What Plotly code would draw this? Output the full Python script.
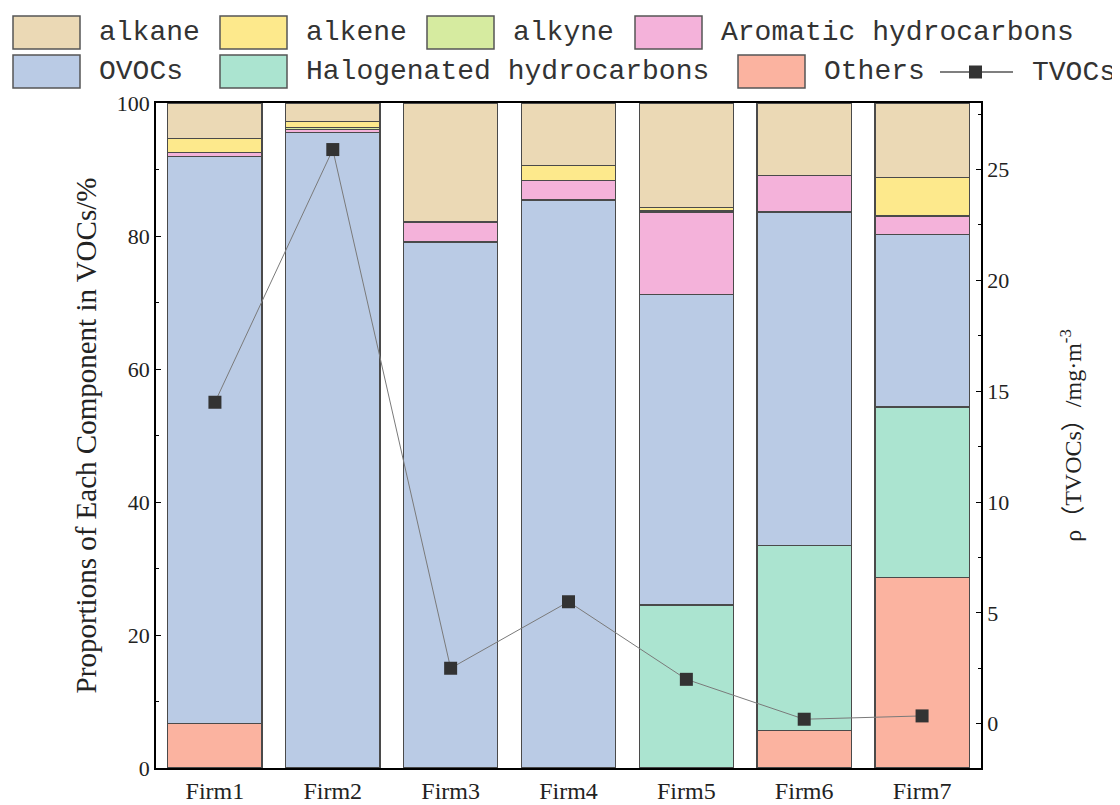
import plotly.graph_objects as go

firms = ["Firm1", "Firm2", "Firm3", "Firm4", "Firm5", "Firm6", "Firm7"]

others = [6.7, 0, 0, 0, 0, 5.7, 28.7]
halogenated = [0, 0, 0, 0, 24.5, 27.8, 25.6]
ovocs = [85.3, 95.6, 79.1, 85.4, 46.7, 50.1, 25.9]
aromatic = [0.5, 0.4, 3.0, 3.0, 12.4, 5.5, 2.8]
alkyne = [0.1, 0.3, 0, 0, 0.2, 0, 0]
alkene = [2.1, 0.9, 0, 2.2, 0.5, 0, 5.8]
alkane = [5.3, 2.8, 17.9, 9.4, 15.7, 10.9, 11.2]

tvocs = [14.5, 25.9, 2.5, 5.5, 2.0, 0.2, 0.35]

left_ticks = [0, 20, 40, 60, 80, 100]
right_ticks = [0, 5, 10, 15, 20, 25]

# stacking order bottom -> top
series = [
    ("Others", others, "#FBB3A0"),
    ("Halogenated hydrocarbons", halogenated, "#ABE4D0"),
    ("OVOCs", ovocs, "#BACBE5"),
    ("Aromatic hydrocarbons", aromatic, "#F4B2DA"),
    ("alkyne", alkyne, "#D6EBA0"),
    ("alkene", alkene, "#FDE98C"),
    ("alkane", alkane, "#EBD9B5"),
]
colors = {n: c for n, _, c in series}

fig = go.Figure()
for name, vals, col in series:
    fig.add_trace(go.Bar(
        x=firms, y=vals, name=name, width=0.8,
        marker=dict(color=col, line=dict(color="#4a4a4a", width=1.2)),
        showlegend=False,
    ))

fig.add_trace(go.Scatter(
    x=firms, y=tvocs, name="TVOCs", yaxis="y2", mode="lines+markers",
    line=dict(color="#7a7a7a", width=1),
    marker=dict(symbol="square", size=13, color="#333333"),
    showlegend=False,
))

# the page body adds an 8px margin; lay out in page pixels minus that offset
OFF = 8
W, H = 1120 - OFF, 805 - OFF
L, R, T, B = 156 - OFF, 981 - OFF, 103 - OFF, 768 - OFF

def px(x):
    return (x - OFF - L) / (R - L)

def py(y):
    return (B - (y - OFF)) / (B - T)

shapes = []
annotations = []
legend_font = dict(family="Liberation Mono", size=28, color="#333333")
row_y = [(16, 49), (55, 88)]
legend_rows = [
    [("alkane", 13), ("alkene", 220), ("alkyne", 427), ("Aromatic hydrocarbons", 635)],
    [("OVOCs", 13), ("Halogenated hydrocarbons", 220), ("Others", 738)],
]
for r, row in enumerate(legend_rows):
    y0, y1 = row_y[r]
    for name, x0 in row:
        shapes.append(dict(type="rect", xref="paper", yref="paper",
                           x0=px(x0), x1=px(x0 + 67), y0=py(y1), y1=py(y0),
                           fillcolor=colors[name], line=dict(color="#555555", width=1.5)))
        annotations.append(dict(xref="paper", yref="paper", x=px(x0 + 84), y=py((y0 + y1) / 2),
                                text=name, showarrow=False, xanchor="left", yanchor="middle",
                                font=legend_font))
# TVOCs legend entry
ty = py(72)
shapes.append(dict(type="line", xref="paper", yref="paper", x0=px(940), x1=px(1013), y0=ty, y1=ty,
                   line=dict(color="#555555", width=1.5)))
shapes.append(dict(type="rect", xref="paper", yref="paper", x0=px(969), x1=px(982),
                   y0=py(78.5), y1=py(65.5), fillcolor="#333333", line=dict(color="#333333", width=0)))
annotations.append(dict(xref="paper", yref="paper", x=px(1030), y=ty, text="TVOCs", showarrow=False,
                        xanchor="left", yanchor="middle", font=legend_font))

serif = "Liberation Serif"
fig.update_layout(
    width=W, height=H,
    margin=dict(l=L, r=W - R, t=T, b=H - B, pad=0, autoexpand=False),
    paper_bgcolor="white", plot_bgcolor="white",
    barmode="stack", bargap=0.2,
    shapes=shapes, annotations=annotations,
    showlegend=False,
    xaxis=dict(
        type="category", range=[-0.5, 6.5], automargin=False,
        showline=True, linecolor="black", linewidth=1.5, mirror=True,
        ticks="", showgrid=False,
        tickfont=dict(family=serif, size=24, color="#222222"),
    ),
    yaxis=dict(
        range=[0, 100], tickvals=left_ticks, automargin=False,
        showline=True, linecolor="black", linewidth=1.5,
        ticks="inside", ticklen=5, tickwidth=1.2, tickcolor="black",
        minor=dict(dtick=10, ticks="inside", ticklen=3, tickcolor="black"),
        showgrid=False, zeroline=False,
        tickfont=dict(family=serif, size=22, color="#222222"),
        title=dict(text="Proportions of Each Component in VOCs/%",
                   font=dict(family=serif, size=29, color="#222222"), standoff=12),
    ),
    yaxis2=dict(
        overlaying="y", side="right", range=[-2, 28], tickvals=right_ticks, automargin=False,
        showline=True, linecolor="black", linewidth=1.5,
        ticks="inside", ticklen=5, tickwidth=1.2, tickcolor="black",
        minor=dict(dtick=2.5, ticks="inside", ticklen=3, tickcolor="black"),
        showgrid=False, zeroline=False,
        tickfont=dict(family=serif, size=22, color="#222222"),
        title=dict(text="ρ（TVOCs）/mg·m<sup>-3</sup>",
                   font=dict(family=serif + ", Noto Sans CJK SC", size=24, color="#222222"),
                   standoff=56),
    ),
)

fig.write_html("out.html")
